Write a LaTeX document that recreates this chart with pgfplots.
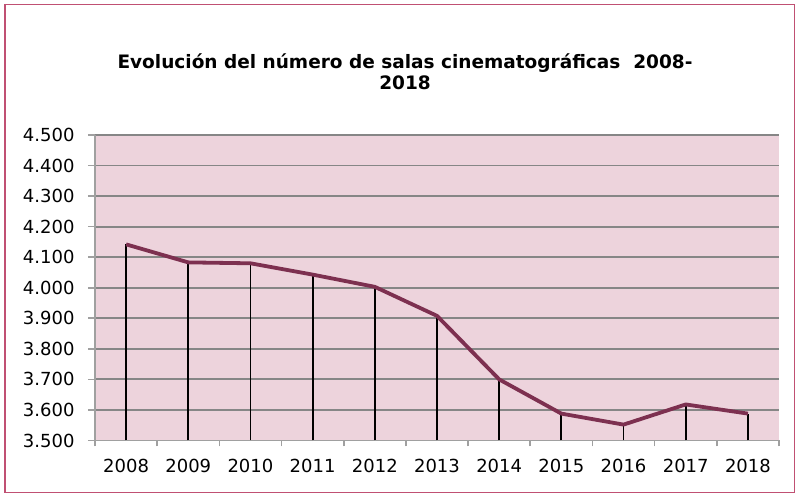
\documentclass[border=0pt]{standalone}
\usepackage{pgfplots}
\pgfplotsset{compat=1.18}
\usepackage{fontspec}
\setmainfont{DejaVu Sans}
\definecolor{framec}{RGB}{192,80,115}
\definecolor{bgpink}{RGB}{237,211,220}
\definecolor{linec}{RGB}{125,48,80}
\definecolor{gridc}{RGB}{134,134,134}
\definecolor{axc}{RGB}{160,160,160}
\begin{document}
\begin{tikzpicture}[x=1pt,y=1pt]
\useasboundingbox (0,0) rectangle (796,497);
\draw[framec, line width=1.5pt] (5,4.5) rectangle (794.5,492.7);
\node[font=\fontsize{18.5}{22}\selectfont\bfseries, anchor=base] at (405,428.7) {Evolución del número de salas cinematográficas\ \ 2008-};
\node[font=\fontsize{18.5}{22}\selectfont\bfseries, anchor=base] at (405,407) {2018};
\begin{axis}[
  at={(95pt,56.5pt)}, anchor=south west,
  scale only axis, width=684pt, height=305.5pt,
  xmin=-0.5, xmax=10.5, ymin=3500, ymax=4500,
  axis lines*=left,
  axis line style={axc, line width=1.8pt},
  axis background/.style={fill=bgpink},
  xtick={0,...,10},
  xticklabels={2008,2009,2010,2011,2012,2013,2014,2015,2016,2017,2018},
  minor xtick={-0.5,0.5,...,10.5},
  ytick={3500,3600,...,4500},
  tick align=outside,
  major tick length=7pt,
  minor tick length=6pt,
  x tick style={draw=none},
  minor x tick style={draw=axc, line width=1.6pt},
  y tick style={draw=axc, line width=1.6pt},
  ymajorgrids,
  major grid style={gridc, line width=1.8pt},
  tick label style={font=\fontsize{18}{21}\selectfont},
  /pgf/number format/assume math mode=true,
  yticklabel style={/pgf/number format/fixed, /pgf/number format/1000 sep={.}, xshift=-10pt},
  xticklabel style={yshift=-8pt},
  clip=true,
]
\addplot[ycomb, black, line width=1.8pt] coordinates {
(0,4142) (1,4083) (2,4080) (3,4043) (4,4003) (5,3908) (6,3700) (7,3588) (8,3552) (9,3618) (10,3588)};
\addplot[linec, line width=3.8pt, line join=round] coordinates {
(0,4142) (1,4083) (2,4080) (3,4043) (4,4003) (5,3908) (6,3700) (7,3588) (8,3552) (9,3618) (10,3588)};
\end{axis}
\end{tikzpicture}
\end{document}
